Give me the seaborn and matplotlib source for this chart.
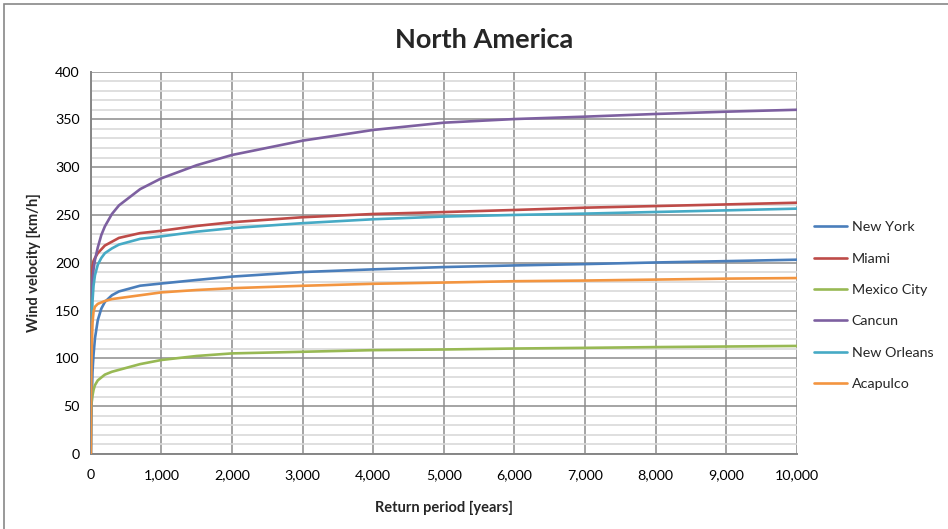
"""
North America - design wind velocity vs return period (Excel-style chart remake).
"""

import pandas as pd
import numpy as np
import matplotlib.pyplot as plt
import seaborn as sns
from matplotlib.patches import Rectangle
from matplotlib.ticker import MultipleLocator, FuncFormatter

sns.set_style("white")
plt.rcParams["font.family"] = ["Lato", "DejaVu Sans"]
plt.rcParams["font.size"] = 10.3

# return period [years]
return_period = [1, 5, 10, 25, 40, 60, 100, 150, 200, 300, 400, 700, 1000, 1500,
                 2000, 3000, 4000, 5000, 6000, 7000, 8000, 9000, 10000]

# wind velocity [km/h] per city
new_york = [0, 30, 45, 86, 104, 121, 140, 152, 159, 166, 170, 176, 178.3, 182,
            185.5, 190.3, 193.1, 195.5, 197.2, 198.6, 200.3, 201.7, 203.2]
miami = [0, 140, 172, 196, 202, 205, 210, 214, 218, 222, 226, 231, 233.4, 238.5,
         242.4, 247.6, 251, 253, 255.2, 257.6, 259.3, 261, 262.8]
mexico_city = [0, 40, 52, 61, 67, 72, 77, 80, 83, 86, 88, 94, 98.3, 102.5,
               105.2, 106.9, 108.6, 109.3, 110.3, 111, 111.8, 112.4, 113]
cancun = [0, 115, 150, 182, 193, 203, 216, 229, 238, 251, 260, 277, 288.3, 302,
          312.7, 327.7, 338.9, 346.5, 350.3, 352.8, 355.6, 358, 360]
new_orleans = [0, 90, 120, 160, 176, 187, 198, 205, 210, 215, 219, 225, 227.6, 232.5,
               236.2, 241.4, 245.5, 248.3, 250, 251.4, 253.1, 254.8, 256.6]
acapulco = [0, 60, 95, 137, 149, 154, 157, 158.5, 160, 162, 163, 166, 169, 171.5,
            173.4, 175.9, 178, 179.3, 180.7, 181.4, 182.4, 183.4, 184]

cities = ["New York", "Miami", "Mexico City", "Cancun", "New Orleans", "Acapulco"]
series = [new_york, miami, mexico_city, cancun, new_orleans, acapulco]
colors = ["#4A7EBB", "#BE4B48", "#98B954", "#7D60A0", "#46AAC5", "#F39540"]

df = pd.DataFrame({"T": np.tile(return_period, len(cities)),
                   "v": np.concatenate(series),
                   "city": np.repeat(cities, len(return_period))})

fig = plt.figure(figsize=(9.48, 5.29), dpi=100)
ax = fig.add_axes([0.0957, 0.1418, 0.8407 - 0.0957, 0.8648 - 0.1418])

sns.lineplot(data=df, x="T", y="v", hue="city", hue_order=cities,
             palette=dict(zip(cities, colors)), linewidth=1.9, sort=False,
             ax=ax, zorder=3)

ax.set_xlim(0, 10000)
ax.set_ylim(0, 400)
ax.xaxis.set_major_locator(MultipleLocator(1000))
ax.yaxis.set_major_locator(MultipleLocator(50))
ax.yaxis.set_minor_locator(MultipleLocator(10))
ax.xaxis.set_major_formatter(FuncFormatter(lambda v, p: f"{int(v):,}"))

#Excel gridlines: light minor, darker major
ax.grid(which="minor", axis="y", color="#d9d9d9", linewidth=1.2, zorder=0)
ax.grid(which="major", axis="y", color="#8c8c8c", linewidth=1.1, zorder=1)
ax.grid(which="major", axis="x", color="#8c8c8c", linewidth=1.1, zorder=1)
ax.set_axisbelow(True)

for side in ["top", "right"]:
    ax.spines[side].set_visible(False)
for side in ["left", "bottom"]:
    ax.spines[side].set_color("#868686")
    ax.spines[side].set_linewidth(1.4)

ax.tick_params(axis="both", which="major", length=4, width=1, color="#868686",
               labelsize=10.3, labelcolor="black", pad=4, direction="out")
ax.tick_params(axis="y", which="minor", length=0)
ax.tick_params(axis="x", pad=7)

ax.set_xlabel("Return period [years]", fontweight="bold", fontsize=10.5, labelpad=14)
ax.set_ylabel("Wind velocity [km/h]", fontweight="bold", fontsize=10.5, labelpad=10)
fig.text(484 / 948, 1 - 40 / 529, "North America", fontweight="bold", fontsize=19.5,
         ha="center", va="center")

ax.get_legend().remove()
handles, labels = ax.get_legend_handles_labels()
fig.legend(handles, labels, loc="upper left", bbox_to_anchor=(0.845, 0.606),
           frameon=False, fontsize=10.3, handlelength=2.3, handletextpad=0.35,
           labelspacing=1.35)

#chart area border
fig.patches.append(Rectangle((4 / 948, -0.1), 1.2, 1.1 - 4 / 529, transform=fig.transFigure,
                             fill=False, edgecolor="#888888", linewidth=1.2))

plt.savefig("out.png", dpi=100)
plt.close()
